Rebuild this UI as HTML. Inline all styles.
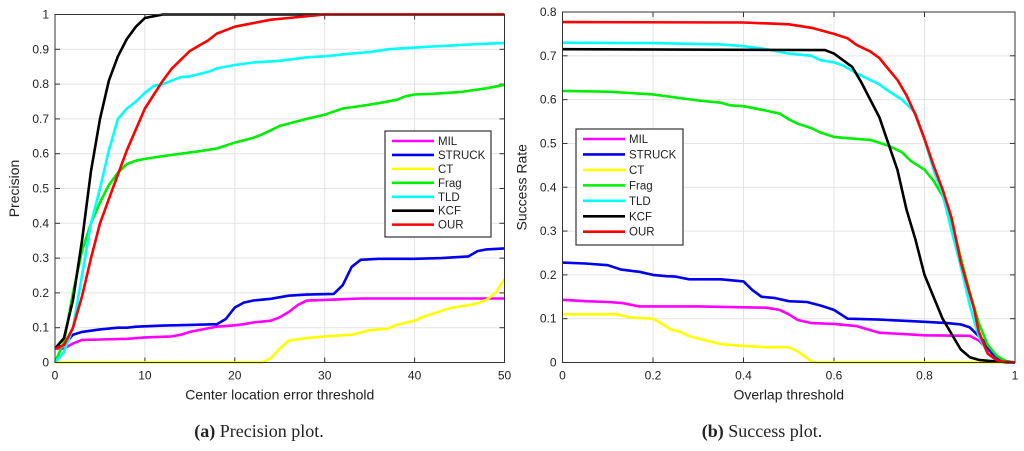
<!DOCTYPE html>
<html><head><meta charset="utf-8"><style>
body{margin:0;background:#fff}
svg{display:block}
text{font-family:"Liberation Sans",sans-serif;fill:#222}
</style></head><body>
<svg id="c" width="1024" height="451" viewBox="0 0 1024 451"></svg>
<script>
const names=["MIL","STRUCK","CT","Frag","TLD","KCF","OUR"];
const colors=["#ff00ff","#0000ee","#ffff00","#00ee00","#00ffff","#000000","#ff0000"];
// Precision plot data (x: threshold, y: precision)
const pMILx=[0,1,2,3,5,8,10,13,14,15,17,18,20,21,22,24,25,26,27,28,30,32,34,50];
const pMILy=[0.04,0.04,0.055,0.065,0.066,0.068,0.072,0.075,0.08,0.088,0.098,0.103,0.107,0.11,0.115,0.12,0.13,0.145,0.165,0.178,0.18,0.182,0.184,0.184];
const pSTRx=[0,1,2,3,5,7,8,9,12,15,18,19,20,21,22,24,26,28,31,32,33,34,36,40,43,46,47,48,50];
const pSTRy=[0.04,0.05,0.08,0.088,0.095,0.1,0.1,0.103,0.106,0.108,0.11,0.125,0.158,0.172,0.178,0.183,0.192,0.195,0.197,0.222,0.275,0.295,0.298,0.298,0.3,0.305,0.32,0.325,0.328];
const pCTx=[0,23,24,25,26,28,30,33,35,37,38,40,41,42,44,46,47,48,49,50];
const pCTy=[0,0,0.012,0.04,0.063,0.07,0.075,0.08,0.093,0.097,0.108,0.12,0.132,0.14,0.157,0.165,0.17,0.18,0.2,0.24];
const pFRx=[0,1,2,3,4,5,6,7,8,9,10,12,14,16,18,20,22,23,25,28,30,32,34,36,38,39,40,42,45,48,50];
const pFRy=[0,0.06,0.2,0.32,0.4,0.46,0.51,0.545,0.57,0.58,0.585,0.593,0.6,0.607,0.615,0.632,0.645,0.655,0.68,0.7,0.712,0.73,0.737,0.745,0.755,0.765,0.77,0.772,0.777,0.788,0.798];
const pTLx=[0,1,2,3,4,5,6,7,8,9,10,11,12,13,14,15,17,18,20,22,25,28,30,33,35,37,40,42,45,48,50];
const pTLy=[0,0.03,0.1,0.25,0.4,0.5,0.61,0.7,0.73,0.75,0.775,0.795,0.8,0.81,0.82,0.822,0.835,0.845,0.855,0.862,0.867,0.877,0.88,0.888,0.892,0.9,0.905,0.908,0.912,0.916,0.918];
const pKCx=[0,1,2,3,4,5,6,7,8,9,10,11,12,13,50];
const pKCy=[0.04,0.07,0.18,0.35,0.55,0.7,0.81,0.88,0.93,0.965,0.99,0.995,1,1,1];
const pOUx=[0,1,2,3,4,5,6,7,8,9,10,11,12,13,14,15,16,17,18,19,20,22,24,26,28,30,50];
const pOUy=[0.04,0.05,0.1,0.19,0.3,0.4,0.47,0.54,0.61,0.67,0.73,0.77,0.81,0.845,0.87,0.895,0.91,0.925,0.945,0.955,0.965,0.975,0.985,0.99,0.995,1,1];
// Success plot data
const sMILx=[0,0.05,0.1,0.13,0.17,0.3,0.45,0.48,0.5,0.52,0.55,0.6,0.65,0.7,0.8,0.9,0.92,0.94,0.96,0.98,1];
const sMILy=[0.143,0.14,0.138,0.136,0.128,0.128,0.125,0.12,0.11,0.097,0.09,0.088,0.083,0.068,0.062,0.061,0.05,0.03,0.01,0,0];
const sSTRx=[0,0.05,0.1,0.13,0.17,0.2,0.23,0.25,0.28,0.35,0.4,0.42,0.44,0.47,0.5,0.54,0.57,0.6,0.63,0.7,0.8,0.85,0.88,0.9,0.93,0.95,0.97,1];
const sSTRy=[0.228,0.226,0.222,0.212,0.207,0.2,0.197,0.196,0.19,0.19,0.185,0.165,0.15,0.147,0.14,0.138,0.13,0.12,0.1,0.098,0.093,0.09,0.087,0.08,0.05,0.02,0.005,0];
const sCTx=[0,0.12,0.15,0.2,0.22,0.24,0.26,0.28,0.35,0.4,0.45,0.5,0.52,0.54,0.55,0.56,1];
const sCTy=[0.11,0.11,0.103,0.1,0.088,0.075,0.07,0.06,0.042,0.038,0.035,0.035,0.025,0.01,0.002,0,0];
const sFRx=[0,0.1,0.2,0.3,0.35,0.37,0.4,0.45,0.48,0.5,0.52,0.55,0.57,0.6,0.63,0.68,0.72,0.75,0.77,0.8,0.82,0.84,0.86,0.88,0.9,0.92,0.94,0.96,0.98,1];
const sFRy=[0.62,0.618,0.612,0.598,0.593,0.587,0.585,0.575,0.568,0.555,0.545,0.535,0.525,0.515,0.512,0.508,0.495,0.48,0.46,0.44,0.415,0.38,0.32,0.24,0.16,0.09,0.04,0.015,0.003,0];
const sTLx=[0,0.2,0.35,0.4,0.45,0.5,0.55,0.57,0.6,0.62,0.65,0.7,0.72,0.75,0.78,0.8,0.82,0.84,0.86,0.88,0.9,0.92,0.94,0.96,1];
const sTLy=[0.73,0.729,0.726,0.722,0.715,0.705,0.7,0.69,0.685,0.678,0.66,0.635,0.62,0.6,0.57,0.51,0.44,0.385,0.3,0.22,0.13,0.06,0.02,0.003,0];
const sKCx=[0,0.58,0.6,0.62,0.64,0.66,0.68,0.7,0.72,0.74,0.76,0.78,0.8,0.82,0.84,0.86,0.88,0.9,0.92,0.95,1];
const sKCy=[0.715,0.713,0.705,0.69,0.675,0.64,0.6,0.56,0.5,0.44,0.35,0.28,0.2,0.15,0.1,0.065,0.03,0.012,0.006,0.003,0];
const sOUx=[0,0.4,0.5,0.55,0.6,0.63,0.65,0.68,0.7,0.72,0.74,0.76,0.78,0.8,0.82,0.84,0.86,0.88,0.91,0.92,0.94,0.96,0.98,1];
const sOUy=[0.777,0.776,0.772,0.764,0.75,0.74,0.725,0.71,0.695,0.67,0.645,0.61,0.565,0.51,0.45,0.395,0.33,0.23,0.12,0.07,0.02,0.005,0,0];
const pXT=[0,10,20,30,40,50], pYT=[0,0.1,0.2,0.3,0.4,0.5,0.6,0.7,0.8,0.9,1];
const sXT=[0,0.2,0.4,0.6,0.8,1], sYT=[0,0.1,0.2,0.3,0.4,0.5,0.6,0.7,0.8];

const svg=document.getElementById('c');const NS="http://www.w3.org/2000/svg";
function mk(t,a,p){const e=document.createElementNS(NS,t);for(const k in a)e.setAttribute(k,a[k]);(p||svg).appendChild(e);return e;}
function plot(id,L,R,T,B,xmax,ymax,xt,yt,series,xlab,ylab,leg,cap,capx){
  const g=mk('g',{});
  
  
  const X=v=>L+(R-L)*v/xmax, Y=v=>B-(B-T)*v/ymax;
  mk('rect',{x:L,y:T,width:R-L,height:B-T,fill:'#fff'},g);
  xt.forEach(v=>{const l=mk('line',{x1:X(v),x2:X(v),y1:T,y2:B,stroke:'#e3e3e3','stroke-width':1},g);
    
    mk('line',{x1:X(v),x2:X(v),y1:B,y2:B-5,stroke:'#333'},g);mk('line',{x1:X(v),x2:X(v),y1:T,y2:T+5,stroke:'#333'},g);
    const t=mk('text',{x:X(v),y:B+17,'text-anchor':'middle','font-size':12},g);t.textContent=v;
    });
  yt.forEach(v=>{const l=mk('line',{x1:L,x2:R,y1:Y(v),y2:Y(v),stroke:'#e3e3e3','stroke-width':1},g);
    
    mk('line',{x1:L,x2:L+5,y1:Y(v),y2:Y(v),stroke:'#333'},g);mk('line',{x1:R,x2:R-5,y1:Y(v),y2:Y(v),stroke:'#333'},g);
    const t=mk('text',{x:L-6,y:Y(v)+4,'text-anchor':'end','font-size':12},g);t.textContent=v;
    });
  series.forEach((s,i)=>{const pts=s[0].map((x,j)=>X(x).toFixed(1)+','+Y(s[1][j]).toFixed(1)).join(' ');
    const pl=mk('polyline',{points:pts,fill:'none',stroke:colors[i],'stroke-width':2.6,'stroke-linejoin':'round'},g);
    });
  mk('rect',{x:L,y:T,width:R-L,height:B-T,fill:'none',stroke:'#333','stroke-width':1},g);
  const xl=mk('text',{x:(L+R)/2,y:B+37,'text-anchor':'middle','font-size':14},g);xl.textContent=xlab;
  
  const yl=mk('text',{x:0,y:0,'text-anchor':'middle','font-size':14,transform:`translate(${L-36},${(T+B)/2}) rotate(-90)`},g);yl.textContent=ylab;
  
  const lg=mk('g',{},g);
  
  mk('rect',{x:leg[0],y:leg[1],width:leg[2],height:leg[3],fill:'#fff',stroke:'#333','stroke-width':1.2},lg);
  names.forEach((n,i)=>{const yy=leg[1]+10+i*(leg[3]-14)/6.6;
    mk('line',{x1:leg[0]+7,x2:leg[0]+49,y1:yy,y2:yy,stroke:colors[i],'stroke-width':2.6},lg);
    const t=mk('text',{x:leg[0]+53,y:yy+4,'font-size':11.5},lg);t.textContent=n;
    });
  const c=mk('text',{x:capx,y:437,'text-anchor':'middle','font-size':18,style:'font-family:"Liberation Serif",serif'},g);
  c.innerHTML='<tspan font-weight="bold">'+cap[0]+'</tspan> '+cap[1];
  
}
plot('precision-plot',55,504.5,14.5,362.5,50,1,pXT,pYT,
 [[pMILx,pMILy],[pSTRx,pSTRy],[pCTx,pCTy],[pFRx,pFRy],[pTLx,pTLy],[pKCx,pKCy],[pOUx,pOUy]],
 'Center location error threshold','Precision',[385,131,106,106],['(a)','Precision plot.'],259);
plot('success-plot',562.5,1015,12,362.5,1,0.8,sXT,sYT,
 [[sMILx,sMILy],[sSTRx,sSTRy],[sCTx,sCTy],[sFRx,sFRy],[sTLx,sTLy],[sKCx,sKCy],[sOUx,sOUy]],
 'Overlap threshold','Success Rate',[576,129,107,116],['(b)','Success plot.'],762);
</script>
</body></html>
